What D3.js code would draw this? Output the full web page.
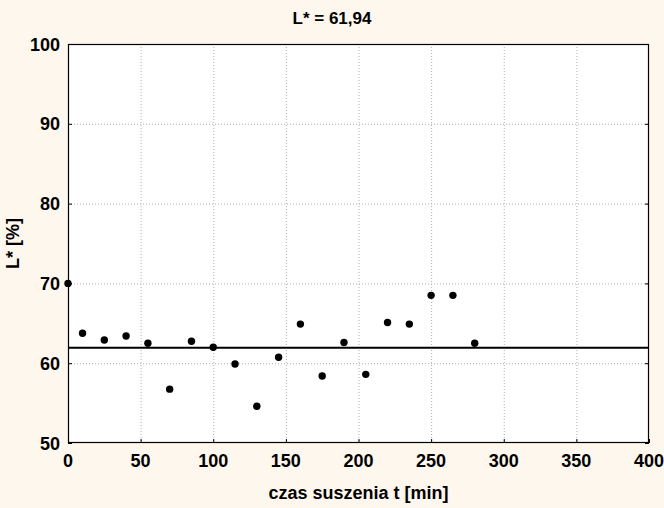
<!DOCTYPE html>
<html><head><meta charset="utf-8">
<script src="https://cdn.jsdelivr.net/npm/d3@7"></script>
<style>html,body{margin:0;padding:0;background:#fdf7ee;}svg{display:block;}</style>
</head><body>
<svg id="c" width="664" height="508"></svg>
<script>
const times = [0,10,25,40,55,70,85,100,115,130,145,160,175,190,205,220,235,250,265,280];
const values = [70,63.75,62.9,63.4,62.5,56.75,62.75,62,59.9,54.6,60.75,64.9,58.4,62.6,58.6,65.1,64.9,68.5,68.5,62.5];
const meanValue = 61.94;
const titleText = "L* = 61,94";
const xTicks = [0,50,100,150,200,250,300,350,400];
const yTicks = [50,60,70,80,90,100];
const xLabel = "czas suszenia t [min]";
const yLabel = "L* [%]";

const svg = d3.select("#c");
const m = {l:68, r:649, t:44, b:443};
const x = d3.scaleLinear().domain([0,400]).range([m.l, m.r]);
const y = d3.scaleLinear().domain([50,100]).range([m.b, m.t]);
const font = "'Liberation Sans', Arial, sans-serif";

svg.append("rect").attr("width",664).attr("height",508).attr("fill","#fdf7ee");
svg.append("rect").attr("x",m.l).attr("y",m.t).attr("width",m.r-m.l).attr("height",m.b-m.t).attr("fill","#fff");

// grid
svg.append("g").selectAll("line").data(xTicks.slice(1,-1)).join("line")
  .attr("x1",d=>x(d)+0.5).attr("x2",d=>x(d)+0.5).attr("y1",m.t).attr("y2",m.b)
  .attr("stroke","#b0b0b0").attr("stroke-width",1).attr("stroke-dasharray","1,2");
svg.append("g").selectAll("line").data(yTicks.slice(1,-1)).join("line")
  .attr("y1",d=>y(d)+0.5).attr("y2",d=>y(d)+0.5).attr("x1",m.l).attr("x2",m.r)
  .attr("stroke","#b0b0b0").attr("stroke-width",1).attr("stroke-dasharray","1,2");

// axes with inward ticks
const ax = (g)=>{g.select(".domain").remove(); g.selectAll("text").remove(); g.selectAll("line").attr("stroke","#000");};
svg.append("g").attr("transform",`translate(0,${m.b})`).call(d3.axisTop(x).tickValues(xTicks).tickSize(4)).call(ax);
svg.append("g").attr("transform",`translate(${m.l},0)`).call(d3.axisRight(y).tickValues(yTicks).tickSize(4)).call(ax);
svg.append("g").attr("transform",`translate(${m.r},0)`).call(d3.axisLeft(y).tickValues(yTicks).tickSize(4)).call(ax);

// border
svg.append("rect").attr("x",m.l+0.5).attr("y",m.t+0.5).attr("width",m.r-m.l-1).attr("height",m.b-m.t-1)
  .attr("fill","none").attr("stroke","#000").attr("stroke-width",1.2);

// tick labels
svg.append("g").selectAll("text").data(xTicks).join("text")
  .attr("x",d=>x(d)).attr("y",467).attr("text-anchor","middle")
  .attr("font-family",font).attr("font-weight","bold").attr("font-size",18).text(d=>d);
svg.append("g").selectAll("text").data(yTicks).join("text")
  .attr("x",60).attr("y",d=>y(d)+6.5).attr("text-anchor","end")
  .attr("font-family",font).attr("font-weight","bold").attr("font-size",18).text(d=>d);

// mean line
svg.append("line").attr("x1",m.l).attr("x2",m.r).attr("y1",y(meanValue)).attr("y2",y(meanValue))
  .attr("stroke","#000").attr("stroke-width",2);

// points
svg.append("g").selectAll("circle").data(times.map((t,i)=>[t,values[i]])).join("circle")
  .attr("cx",d=>x(d[0])).attr("cy",d=>y(d[1])).attr("r",3.7).attr("fill","#000");

// title & labels
svg.append("text").attr("x",332).attr("y",24).attr("text-anchor","middle")
  .attr("font-family",font).attr("font-weight","bold").attr("font-size",17).text(titleText);
svg.append("text").attr("x",(m.l+m.r)/2).attr("y",499).attr("text-anchor","middle")
  .attr("font-family",font).attr("font-weight","bold").attr("font-size",18).text(xLabel);
svg.append("text").attr("transform",`translate(19,${(m.t+m.b)/2}) rotate(-90)`).attr("text-anchor","middle")
  .attr("font-family",font).attr("font-weight","bold").attr("font-size",18).text(yLabel);
</script>
</body></html>
